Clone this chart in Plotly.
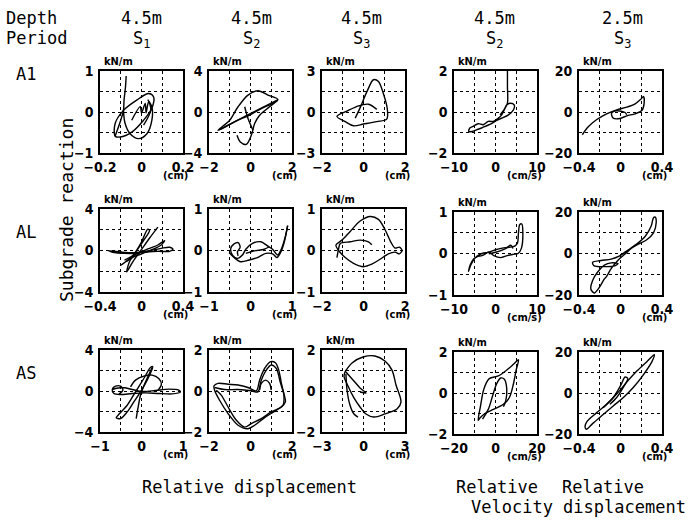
import plotly.graph_objects as go

# ---------------- data ----------------
row_names = ["A1", "AL", "AS"]
depths = ["4.5m", "4.5m", "4.5m", "4.5m", "2.5m"]
periods = ["S<sub>1</sub>", "S<sub>2</sub>", "S<sub>3</sub>", "S<sub>2</sub>", "S<sub>3</sub>"]
x_limits = [[0.2, 2, 2, 10, 0.4], [0.4, 1, 2, 10, 0.4], [1, 2, 3, 20, 0.4]]
y_limits = [[1, 4, 3, 2, 20], [4, 1, 1, 1, 20], [4, 2, 2, 2, 20]]
x_tick_labels = [["−0.2", "0", "0.2"], ["−2", "0", "2"], ["−2", "0", "2"], ["−10", "0", "10"], ["−0.4", "0", "0.4"],
                 ["−0.4", "0", "0.4"], ["−1", "0", "1"], ["−2", "0", "2"], ["−10", "0", "10"], ["−0.4", "0", "0.4"],
                 ["−1", "0", "1"], ["−2", "0", "2"], ["−3", "0", "3"], ["−20", "0", "20"], ["−0.4", "0", "0.4"]]
y_tick_labels = [["−1", "0", "1"], ["−4", "0", "4"], ["−3", "0", "3"], ["−2", "0", "2"], ["−20", "0", "20"],
                 ["−4", "0", "4"], ["−1", "0", "1"], ["−1", "0", "1"], ["−1", "0", "1"], ["−20", "0", "20"],
                 ["−4", "0", "4"], ["−2", "0", "2"], ["−2", "0", "2"], ["−2", "0", "2"], ["−20", "0", "20"]]
x_units = ["(cm)", "(cm)", "(cm)", "(cm/s)", "(cm)"]
y_unit = "kN/m"

# A1 row
a1s1_ax = [-0.074, -0.077, -0.084, -0.087, -0.1, -0.12, -0.127]
a1s1_ay = [0.88, 0.62, 0.29, 0.04, -0.2, -0.49, -0.59]
a1s1_bx = [-0.127, -0.127, -0.087, -0.023, 0.034, 0.058, 0.05, 0.01, -0.047, -0.103, -0.127]
a1s1_by = [-0.59, -0.28, 0.04, 0.29, 0.45, 0.37, 0.09, -0.2, -0.49, -0.61, -0.59]
a1s1_cx = [-0.087, -0.079, -0.055, -0.015, 0.026, 0.05, 0.05, 0.03]
a1s1_cy = [0.04, -0.28, -0.53, -0.65, -0.53, -0.2, 0.12, 0.3]
a1s1_dx = [-0.047, -0.006, 0.0, 0.018, 0.022, 0.034, 0.045, 0.01]
a1s1_dy = [-0.2, 0.13, -0.02, 0.21, -0.02, 0.25, 0.05, -0.32]

a1s2_ax = [-1.57, -1.0, -0.6, -0.12, 0.36, 0.84, 1.32, 1.0, 0.52, -0.04, -0.6, -1.16, -1.57]
a1s2_ay = [-1.78, -0.8, 0.51, 1.65, 2.07, 1.65, 1.22, 0.77, 0.34, -0.31, -0.8, -1.39, -1.78]
a1s2_bx = [-1.49, -0.2, 1.33]
a1s2_by = [-1.71, -0.35, 1.22]
a1s2_cx = [1.32, 0.92, 0.44, 0.2, 0.04, -0.2, -0.49, -0.65]
a1s2_cy = [1.16, 0.51, -0.31, -1.13, -2.27, -3.15, -2.92, -2.27]
a1s2_dx = [-0.28, -0.12, 0.12]
a1s2_dy = [0.51, -0.64, -1.78]

a1s3_ax = [-0.4, -0.16, 0.16, 0.48, 0.72, 0.96, 1.15, 1.12, 0.64, 0.0, -0.48, -0.88, -1.28, -0.8, -0.24, 0.24, 0.64]
a1s3_ay = [-0.45, 0.32, 1.47, 2.36, 2.23, 1.34, 0.19, -0.52, -0.7, -0.88, -1.01, -0.7, -0.32, 0.06, 0.45, 0.57, 0.19]

a1s4_ax = [2.88, 2.88, 2.88, 2.31, 1.5, 0.69, -0.52, -1.74, -2.95, -4.17, -5.38, -6.19, -6.44, -5.63, -4.57,
           -3.36, -2.14, -0.93, 0.29, 1.5, 3.12, 4.34, 4.5, 3.53, 2.72, 2.07, 1.1]
a1s4_ay = [2.0, 1.24, 0.43, 0.19, -0.14, -0.3, -0.46, -0.46, -0.62, -0.57, -0.7, -0.78, -0.95, -0.95, -0.87,
           -0.78, -0.67, -0.57, -0.41, -0.3, -0.14, 0.11, 0.35, 0.43, 0.35, 0.11, -0.14]

a1s5_ax = [-0.368, -0.313, -0.232, -0.134, -0.037, 0.06, 0.141, 0.196, 0.222, 0.228, 0.206, 0.141, 0.06,
           -0.005, -0.07, -0.086, -0.037, 0.044, 0.06]
a1s5_ay = [-11.1, -7.36, -3.8, -0.89, 1.06, 2.35, 3.97, 6.24, 7.53, 4.3, 0.73, -0.89, -1.86, -3.15, -2.99,
           -0.56, 0.57, -0.24, -1.37]

# AL row
als1_ax = [-0.319, -0.197, -0.068, 0.061, 0.19, 0.271, 0.303, 0.271, 0.158, 0.029, -0.068, -0.164, -0.261, -0.319]
als1_ay = [-0.02, -0.15, -0.21, -0.05, 0.21, 0.31, 0.11, -0.08, -0.08, -0.18, -0.28, -0.28, -0.21, -0.02]
als1_bx = [-0.197, -0.132, -0.068, -0.003, 0.061, 0.077, 0.013, -0.052, -0.116, -0.142, -0.084, -0.003, 0.077, 0.158]
als1_by = [-1.41, -0.92, -0.28, 0.76, 2.06, 1.93, 0.86, -0.11, -1.09, -2.06, -1.09, 0.05, 1.18, 2.25]
als1_cx = [-0.164, -0.068, 0.061, 0.158, 0.223, 0.19, 0.094, -0.003, -0.084, -0.148]
als1_cy = [-0.92, -0.44, 0.15, 0.53, 0.96, 0.53, 0.05, -0.34, -0.66, -1.09]

als2_ax = [-0.516, -0.395, -0.234, -0.032, 0.169, 0.371, 0.532, 0.637, 0.734, 0.815, 0.895]
als2_ay = [-0.05, -0.17, -0.27, -0.23, -0.17, -0.07, -0.08, -0.17, -0.03, 0.21, 0.6]
als2_bx = [0.895, 0.831, 0.75, 0.653, 0.532, 0.411, 0.25, 0.048, -0.113, -0.194, -0.315, -0.435, -0.476,
           -0.395, -0.298, -0.25, -0.315, -0.298]
als2_by = [0.6, 0.3, 0.05, -0.11, 0.03, 0.11, 0.21, 0.17, 0.03, -0.11, -0.19, -0.11, 0.05, 0.16, 0.19, 0.08,
           -0.03, -0.13]
als2_cx = [-0.113, 0.089, 0.331, 0.452]
als2_cy = [-0.07, -0.01, 0.03, 0.09]

als3_ax = [-1.28, -1.2, -1.12, -0.64, -0.16, 0.24, 0.4]
als3_ay = [-0.17, 0.04, 0.17, 0.21, 0.25, 0.21, 0.14]
als3_bx = [-1.33, -1.04, -0.64, -0.16, 0.32, 0.72, 1.04, 1.31, 1.52, 1.73, 1.86, 1.73, 1.52, 1.2, 0.8, 0.4,
           0.0, -0.48, -0.88, -1.2, -1.33]
als3_by = [0.13, 0.25, 0.46, 0.71, 0.82, 0.75, 0.5, 0.21, 0.06, 0.08, 0.0, -0.08, -0.04, -0.08, -0.21, -0.33,
           -0.39, -0.31, -0.17, 0.0, 0.13]

als4_ax = [-6.5, -5.93, -4.88, -3.25, -1.63, 0.0, 1.63, 3.25, 4.63, 5.28, 5.53, 5.85, 6.34, 6.59, 6.26, 5.45,
           4.31, 2.85, 1.22, -0.41, -1.63, -2.44, -3.25, -4.47, -5.28, -6.1, -6.5]
als4_ay = [-0.43, -0.27, -0.1, 0.0, 0.03, 0.09, 0.13, 0.15, 0.18, 0.25, 0.49, 0.7, 0.71, 0.49, 0.13, 0.0,
           -0.02, -0.05, -0.1, -0.05, 0.04, -0.01, -0.05, -0.08, -0.13, -0.28, -0.43]
als4_bx = [-1.63, 0.0, 2.44, 3.66, 4.23]
als4_by = [-0.01, 0.03, 0.12, 0.2, 0.12]

als5_ax = [-0.155, -0.204, -0.253, -0.286, -0.269, -0.22, -0.155, -0.09, -0.024, -0.057, -0.155, -0.253,
           -0.269, -0.188, -0.09, -0.008, 0.073, 0.155, 0.237, 0.295, 0.318, 0.335, 0.344, 0.318, 0.253,
           0.171, 0.106, 0.041, -0.024, -0.09, -0.139, -0.155]
als5_ay = [-12.2, -16.3, -19.0, -17.1, -13.0, -8.9, -5.6, -4.5, -4.8, -6.0, -6.3, -6.0, -4.3, -3.4, -2.7,
           -1.1, 1.7, 4.5, 8.2, 13.1, 17.2, 17.5, 14.8, 9.9, 6.6, 4.5, 2.5, -0.4, -3.2, -7.3, -11.4, -12.2]

# AS row
ass1_ax = [-0.704, -0.464, -0.224, 0.016, 0.336, 0.656, 0.896, 0.936, 0.736, 0.416, 0.096, -0.224, -0.504,
           -0.664, -0.704, -0.624, -0.504, -0.448, -0.544]
ass1_ay = [0.15, 0.34, 0.15, -0.05, 0.05, 0.18, 0.08, -0.11, -0.28, -0.24, -0.18, -0.24, -0.34, -0.24, 0.15,
           0.47, 0.47, 0.08, -0.31]
ass1_bx = [-0.608, -0.504, -0.344, -0.184, -0.024, 0.136, 0.272, 0.216, 0.056, -0.144, -0.344, -0.528, -0.608]
ass1_by = [-2.6, -2.69, -2.04, -1.06, -0.08, 1.06, 2.37, 2.3, 1.22, -0.08, -1.39, -2.2, -2.6]
ass1_cx = [-0.264, -0.144, 0.056, 0.256, 0.416, 0.48, 0.4]
ass1_cy = [0.41, 1.06, 1.45, 1.55, 1.22, 0.67, 0.08]
ass1_dx = [-0.128, -0.08, -0.024, 0.08, 0.256]
ass1_dy = [-2.69, -1.55, -0.41, 0.73, 2.3]

ass2_ax = [-1.76, -1.57, -1.08, -0.6, -0.12, 0.28, 0.44, 0.68, 0.97, 1.2, 1.36, 1.49, 1.61, 1.57, 1.24, 0.68,
           0.2, -0.12, -0.6, -1.08, -1.49, -1.73, -1.76]
ass2_ay = [0.24, 0.37, 0.33, 0.29, 0.17, 0.01, 0.53, 1.1, 1.43, 1.38, 1.02, 0.37, -0.2, -0.69, -0.94, -1.3,
           -1.67, -1.84, -1.67, -1.1, -0.45, 0.04, 0.24]
ass2_bx = [-1.73, -1.25, -0.6, 0.04, 0.36, 0.52, 0.76, 1.0, 1.24, 1.45, 1.65, 1.68, 1.49, 1.0, 0.52, 0.04,
           -0.28, -0.68, -1.08, -1.41, -1.65]
ass2_by = [0.17, 0.07, 0.07, 0.01, -0.04, 0.53, 1.02, 1.27, 1.1, 0.37, -0.29, -0.53, -0.78, -1.02, -1.35,
           -1.59, -1.76, -1.43, -0.78, -0.2, 0.04]
ass2_cx = [0.44, 0.52, 0.73, 0.92, 1.0]
ass2_cy = [0.04, 0.37, 0.53, 0.37, 0.04]

ass3_ax = [-1.34, -0.83, -0.04, 0.83, 1.55, 2.06, 2.35, 2.71, 2.42, 1.55, 0.76, 0.18, -0.25, -0.69, -1.12,
           -1.41, -1.27]
ass3_ay = [0.93, 1.37, 1.66, 1.71, 1.46, 1.02, 0.29, -0.54, -0.88, -1.12, -1.27, -1.12, -0.78, -0.34, 0.24,
           0.73, 1.02]
ass3_bx = [-1.27, -1.19, -0.98, -0.69, -0.4]
ass3_by = [0.83, 0.05, -0.68, -1.12, -1.27]
ass3_cx = [-1.27, -0.76, -0.25, 0.18, -0.25]
ass3_cy = [0.93, 0.54, 0.15, -0.1, -0.05]

ass4_ax = [-8.34, -7.21, -5.59, -3.0, 1.37, 5.42, 8.66, 11.08, 9.95, 8.66, 6.71, 3.8, -1.05, -5.1, -7.53, -8.34]
ass4_ay = [-1.33, -0.63, 0.2, 0.7, 0.83, 1.12, 1.4, 1.62, 1.12, 0.45, -0.22, -0.55, -0.8, -1.0, -1.22, -1.33]
ass4_bx = [-6.24, -3.49, -1.38, 0.56, 2.5, 4.29, 5.42, 4.93, 3.8]
ass4_by = [-1.27, -0.8, -0.13, 0.45, 0.73, 0.67, 0.2, -0.38, -0.67]

ass5_ax = [-0.322, -0.232, -0.134, -0.037, 0.06, 0.157, 0.254, 0.326, 0.303, 0.222, 0.125, 0.028, -0.07,
           -0.167, -0.264, -0.329, -0.342, -0.322]
ass5_ay = [-13.8, -9.7, -5.5, -0.5, 5.3, 10.7, 15.3, 18.7, 15.3, 9.0, 2.8, -2.2, -6.3, -10.5, -14.7, -17.7,
           -16.3, -13.8]
ass5_bx = [-0.167, -0.07, 0.002, 0.044, 0.07, 0.021, -0.037, -0.102]
ass5_by = [-7.2, -2.2, 3.7, 7.8, 7.0, 2.3, -2.2, -5.5]

panel_curves = [
    [(a1s1_ax, a1s1_ay), (a1s1_bx, a1s1_by), (a1s1_cx, a1s1_cy), (a1s1_dx, a1s1_dy)],
    [(a1s2_ax, a1s2_ay), (a1s2_bx, a1s2_by), (a1s2_cx, a1s2_cy), (a1s2_dx, a1s2_dy)],
    [(a1s3_ax, a1s3_ay)],
    [(a1s4_ax, a1s4_ay)],
    [(a1s5_ax, a1s5_ay)],
    [(als1_ax, als1_ay), (als1_bx, als1_by), (als1_cx, als1_cy)],
    [(als2_ax, als2_ay), (als2_bx, als2_by), (als2_cx, als2_cy)],
    [(als3_ax, als3_ay), (als3_bx, als3_by)],
    [(als4_ax, als4_ay), (als4_bx, als4_by)],
    [(als5_ax, als5_ay)],
    [(ass1_ax, ass1_ay), (ass1_bx, ass1_by), (ass1_cx, ass1_cy), (ass1_dx, ass1_dy)],
    [(ass2_ax, ass2_ay), (ass2_bx, ass2_by), (ass2_cx, ass2_cy)],
    [(ass3_ax, ass3_ay), (ass3_bx, ass3_by), (ass3_cx, ass3_cy)],
    [(ass4_ax, ass4_ay), (ass4_bx, ass4_by)],
    [(ass5_ax, ass5_ay), (ass5_bx, ass5_by)],
]

# ---------------- layout (pixels) ----------------
W, H = 696, 520
col_px = [(100, 183), (209, 292), (322, 405), (454, 537), (579, 662)]
row_px = [[(71, 153)] * 3 + [(71, 153)] * 2,
          [(209, 292)] * 3 + [(212, 295)] * 2,
          [(350, 432)] * 3 + [(352, 434)] * 2]

MONO = "DejaVu Sans Mono"
TICK = "DejaVu Sans Condensed"

fig = go.Figure()
layout = {}
annotations = []

for r in range(3):
    for c in range(5):
        k = r * 5 + c
        n = k + 1
        xa = "x" if n == 1 else f"x{n}"
        ya = "y" if n == 1 else f"y{n}"
        L, R = col_px[c]
        T, B = row_px[r][c]
        xm = x_limits[r][c]
        ym = y_limits[r][c]
        for cx, cy in panel_curves[k]:
            fig.add_trace(go.Scatter(x=cx, y=cy, mode="lines", xaxis=xa, yaxis=ya,
                                     line=dict(color="black", width=1.4, shape="spline", smoothing=0.9),
                                     showlegend=False, hoverinfo="skip"))
        xt = x_tick_labels[k]
        yt = y_tick_labels[k]
        common = dict(showline=True, mirror=True, linecolor="black", linewidth=1.6,
                      showgrid=True, gridcolor="black", griddash="dot", gridwidth=1,
                      zeroline=False, ticks="", fixedrange=True, automargin=False,
                      tickfont=dict(family=TICK, size=14, color="black", weight="bold"))
        layout["xaxis" if n == 1 else f"xaxis{n}"] = dict(
            domain=[L / W, R / W], range=[-xm, xm], anchor=ya,
            tickmode="array", tickvals=[-xm, -xm / 2, 0, xm / 2, xm],
            ticktext=[xt[0], "", xt[1], "", xt[2]], ticklabelstandoff=0, **common)
        layout["yaxis" if n == 1 else f"yaxis{n}"] = dict(
            domain=[1 - B / H, 1 - T / H], range=[-ym, ym], anchor=xa,
            tickmode="array", tickvals=[-ym, -ym / 2, 0, ym / 2, ym],
            ticktext=[yt[0], "", yt[1], "", yt[2]], ticklabelstandoff=2, **common)
        annotations.append(dict(text=y_unit, x=(L + 2) / W, y=1 - (T - 1) / H, xref="paper", yref="paper",
                                xanchor="left", yanchor="bottom", showarrow=False,
                                font=dict(family=TICK, size=11, color="black", weight="bold")))
        annotations.append(dict(text=x_units[c], x=(R - (13 if c == 3 else 8)) / W, y=1 - (B + 14) / H,
                                xref="paper", yref="paper", xanchor="center", yanchor="top", showarrow=False,
                                font=dict(family=TICK, size=11, color="black", weight="bold")))

# headers
hdr_font = dict(family=MONO, size=17, color="black")
annotations.append(dict(text="Depth", x=4 / W, y=1 - 18 / H, xref="paper", yref="paper", xanchor="left",
                        yanchor="middle", showarrow=False, font=hdr_font))
annotations.append(dict(text="Period", x=4 / W, y=1 - 38 / H, xref="paper", yref="paper", xanchor="left",
                        yanchor="middle", showarrow=False, font=hdr_font))
hdr_x = [141, 251, 362, 494, 622]
for c in range(5):
    annotations.append(dict(text=depths[c], x=hdr_x[c] / W, y=1 - 18 / H, xref="paper", yref="paper",
                            xanchor="center", yanchor="middle", showarrow=False, font=hdr_font))
    annotations.append(dict(text=periods[c], x=hdr_x[c] / W, y=1 - 40 / H, xref="paper", yref="paper",
                            xanchor="center", yanchor="middle", showarrow=False, font=hdr_font))
row_y = [74, 232, 373]
for r in range(3):
    annotations.append(dict(text=row_names[r], x=14 / W, y=1 - row_y[r] / H, xref="paper", yref="paper",
                            xanchor="left", yanchor="middle", showarrow=False, font=hdr_font))
annotations.append(dict(text="Subgrade reaction", x=66 / W, y=1 - 210 / H, xref="paper", yref="paper",
                        xanchor="center", yanchor="middle", textangle=-90, showarrow=False,
                        font=dict(family=MONO, size=18, color="black")))
annotations.append(dict(text="Relative displacement", x=250 / W, y=1 - 487 / H, xref="paper", yref="paper",
                        xanchor="center", yanchor="middle", showarrow=False, font=hdr_font))
annotations.append(dict(text="Relative", x=497 / W, y=1 - 487 / H, xref="paper", yref="paper",
                        xanchor="center", yanchor="middle", showarrow=False, font=hdr_font))
annotations.append(dict(text="Relative", x=603 / W, y=1 - 487 / H, xref="paper", yref="paper",
                        xanchor="center", yanchor="middle", showarrow=False, font=hdr_font))
annotations.append(dict(text="Velocity displacement", x=578 / W, y=1 - 507 / H, xref="paper", yref="paper",
                        xanchor="center", yanchor="middle", showarrow=False, font=hdr_font))

fig.update_layout(width=W, height=H, margin=dict(l=0, r=0, t=0, b=0, autoexpand=False),
                  paper_bgcolor="white", plot_bgcolor="white", annotations=annotations,
                  showlegend=False, **layout)
fig.write_html("out.html", config={"displayModeBar": False},
               post_script="document.body.style.margin='0';document.body.style.overflow='hidden';")
